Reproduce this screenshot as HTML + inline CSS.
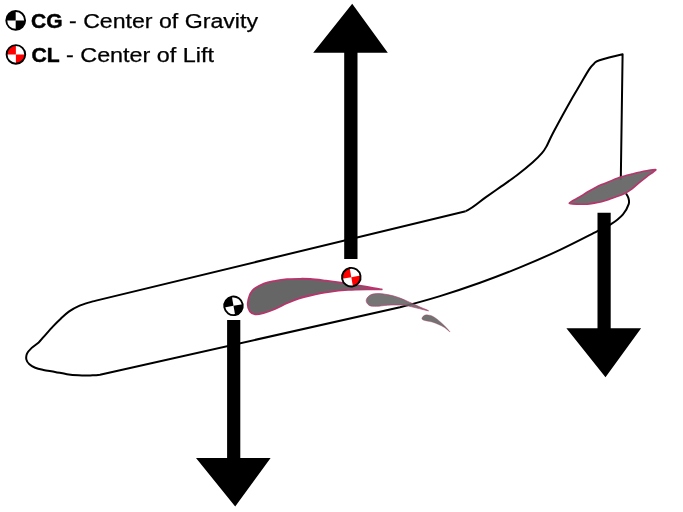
<!DOCTYPE html>
<html><head><meta charset="utf-8"><style>html,body{margin:0;padding:0;background:#fff;overflow:hidden}svg{display:block}</style></head>
<body><svg width="683" height="512" viewBox="0 0 683 512">
<rect width="683" height="512" fill="#fff"/>
<path d="M465.7,211.2 L96.0,300.6 C91.05,301.82 93.20,301.18 90.30,302.10 C87.40,303.02 82.12,304.55 78.60,306.10 C75.08,307.65 72.13,309.35 69.20,311.40 C66.27,313.45 63.73,315.87 61.00,318.40 C58.27,320.93 55.73,323.47 52.80,326.60 C49.87,329.73 45.75,334.57 43.40,337.20 C41.05,339.83 40.65,340.62 38.70,342.40 C36.75,344.18 33.65,346.02 31.70,347.90 C29.75,349.78 27.88,351.75 27.00,353.70 C26.12,355.65 26.00,357.83 26.40,359.60 C26.80,361.37 27.93,362.93 29.40,364.30 C30.87,365.67 32.87,366.87 35.20,367.80 C37.53,368.73 40.08,369.22 43.40,369.90 C46.72,370.58 51.18,371.18 55.10,371.90 C59.02,372.62 62.98,373.63 66.90,374.20 C70.82,374.77 74.70,375.10 78.60,375.30 C82.50,375.50 86.73,375.50 90.30,375.40 C93.87,375.30 95.05,375.57 100.00,374.70 L400,307.3 C410.00,304.68 426.67,300.18 440.00,296.10 C453.33,292.02 466.67,287.58 480.00,282.80 C493.33,278.02 506.67,272.88 520.00,267.40 C533.33,261.92 547.17,255.90 560.00,249.90 C572.83,243.90 588.50,235.68 597.00,231.40 C605.50,227.12 606.67,227.05 611.00,224.20 C615.33,221.35 620.05,217.65 623.00,214.30 C625.95,210.95 627.80,206.82 628.70,204.10 C629.60,201.38 628.85,199.77 628.40,198.00 C627.95,196.23 626.40,194.25 626.00,193.50" fill="none" stroke="#000" stroke-width="2" stroke-linejoin="round"/>
<path d="M465.7,211.2 C473.30,207.88 479.68,201.53 485.60,197.40 C491.53,193.27 496.03,190.08 501.25,186.40 C506.47,182.72 511.69,179.27 516.90,175.30 C522.11,171.33 528.33,166.28 532.50,162.60 C536.67,158.92 539.55,155.93 541.90,153.20 C544.25,150.47 544.92,149.23 546.60,146.20 C548.28,143.17 549.33,140.15 552.00,135.00 C554.67,129.85 559.37,121.22 562.60,115.30 C565.83,109.38 568.47,104.62 571.40,99.50 C574.33,94.38 577.27,89.58 580.20,84.60 C583.13,79.62 586.67,73.12 589.00,69.60 C591.33,66.08 592.45,65.07 594.20,63.50 C595.95,61.93 594.77,61.75 599.50,60.20 C604.23,58.65 615.85,55.73 622.60,54.20 L620.8,180" fill="none" stroke="#000" stroke-width="2" stroke-linejoin="round"/>
<path d="M247.80,302.80 C248.22,299.28 249.73,293.68 252.40,290.50 C255.07,287.32 259.98,285.32 263.80,283.70 C267.62,282.08 271.43,281.55 275.30,280.80 C279.17,280.05 283.12,279.53 287.00,279.20 C290.88,278.87 294.72,278.83 298.60,278.80 C302.48,278.77 305.73,278.68 310.30,279.00 C314.87,279.32 321.55,280.18 326.00,280.70 C330.45,281.22 333.33,281.60 337.00,282.10 C340.67,282.60 343.43,282.98 348.00,283.70 C352.57,284.42 359.83,285.60 364.40,286.40 C368.97,287.20 372.53,288.00 375.40,288.50 C378.27,289.00 382.52,289.27 381.60,289.40 C380.68,289.53 375.50,289.22 369.90,289.30 C364.30,289.38 354.98,289.43 348.00,289.90 C341.02,290.37 334.28,291.17 328.00,292.10 C321.72,293.03 315.20,294.42 310.30,295.50 C305.40,296.58 302.50,297.32 298.60,298.60 C294.70,299.88 290.82,301.47 286.90,303.20 C282.98,304.93 279.02,307.35 275.10,309.00 C271.18,310.65 266.72,312.22 263.40,313.10 C260.08,313.98 257.45,314.55 255.20,314.30 C252.95,314.05 251.13,313.52 249.90,311.60 C248.67,309.68 247.38,306.32 247.80,302.80 Z" fill="#666666" stroke="#b8346c" stroke-width="1.8"/>
<path d="M366.20,300.60 C366.23,298.95 367.77,296.67 369.50,295.50 C371.23,294.33 373.58,293.75 376.60,293.60 C379.62,293.45 383.93,293.95 387.60,294.60 C391.27,295.25 394.87,296.20 398.60,297.50 C402.33,298.80 406.43,300.82 410.00,302.40 C413.57,303.98 416.90,305.60 420.00,307.00 C423.10,308.40 428.93,310.58 428.60,310.80 C428.27,311.02 421.77,309.17 418.00,308.30 C414.23,307.43 409.23,306.15 406.00,305.60 C402.77,305.05 401.67,305.07 398.60,305.00 C395.53,304.93 391.27,304.98 387.60,305.20 C383.93,305.42 379.65,306.27 376.60,306.30 C373.55,306.33 371.03,306.35 369.30,305.40 C367.57,304.45 366.17,302.25 366.20,300.60 Z" fill="#666666" fill-opacity="0.9" stroke="#b8346c" stroke-width="1" stroke-opacity="0.6"/>
<path d="M421.90,318.20 C422.07,317.48 423.15,316.17 424.00,315.60 C424.85,315.03 425.57,314.70 427.00,314.80 C428.43,314.90 430.70,315.30 432.60,316.20 C434.50,317.10 436.45,318.65 438.40,320.20 C440.35,321.75 442.35,323.53 444.30,325.50 C446.25,327.47 450.10,331.68 450.10,332.00 C450.10,332.32 446.25,328.65 444.30,327.40 C442.35,326.15 440.35,325.37 438.40,324.50 C436.45,323.63 434.55,322.78 432.60,322.20 C430.65,321.62 428.30,321.38 426.70,321.00 C425.10,320.62 423.80,320.37 423.00,319.90 C422.20,319.43 421.73,318.92 421.90,318.20 Z" fill="#666666" fill-opacity="0.92" stroke="#b8346c" stroke-width="0.6" stroke-opacity="0.5"/>
<path d="M569.20,203.20 C569.20,202.00 576.63,198.82 579.60,197.00 C582.57,195.18 584.55,193.77 587.00,192.30 C589.45,190.83 591.87,189.48 594.30,188.20 C596.73,186.92 599.17,185.68 601.60,184.60 C604.03,183.52 606.28,182.77 608.90,181.70 C611.52,180.63 614.68,179.15 617.30,178.20 C619.92,177.25 622.15,176.68 624.60,176.00 C627.05,175.32 629.55,174.72 632.00,174.10 C634.45,173.48 636.87,172.85 639.30,172.30 C641.73,171.75 643.90,171.25 646.60,170.80 C649.30,170.35 654.35,169.43 655.50,169.60 C656.65,169.77 654.98,170.60 653.50,171.80 C652.02,173.00 648.97,175.00 646.60,176.80 C644.23,178.60 641.73,180.60 639.30,182.60 C636.87,184.60 634.45,186.98 632.00,188.80 C629.55,190.62 627.43,192.10 624.60,193.50 C621.77,194.90 617.62,196.20 615.00,197.20 C612.38,198.20 611.13,198.75 608.90,199.50 C606.67,200.25 604.03,201.10 601.60,201.70 C599.17,202.30 596.73,202.68 594.30,203.10 C591.87,203.52 589.45,204.02 587.00,204.20 C584.55,204.38 582.57,204.37 579.60,204.20 C576.63,204.03 569.20,204.40 569.20,203.20 Z" fill="#666666" fill-opacity="0.95" stroke="#b8346c" stroke-width="1.6"/>
<path d="M352.2,3.7 L387.8,52.7 L357.5,52.7 L357.5,258.9 L344.2,258.9 L344.2,52.7 L313.2,52.7 Z" fill="#000"/>
<path d="M235.2,506.5 L270.6,457.9 L240.3,457.9 L240.3,320.1 L227.1,320.1 L227.1,457.9 L196.0,457.9 Z" fill="#000"/>
<path d="M605.5,377.2 L641.1,328.2 L610.7,328.2 L610.7,212.8 L597.5,212.8 L597.5,328.2 L566.4,328.2 Z" fill="#000"/>
<g transform="translate(233.5,305.8) rotate(-10)">
<circle r="9.3" fill="#fff"/>
<path d="M0,0 L-9.3,0 A9.3,9.3 0 0 1 0,-9.3 Z" fill="#000"/>
<path d="M0,0 L9.3,0 A9.3,9.3 0 0 1 0,9.3 Z" fill="#000"/>
<circle r="9.3" fill="none" stroke="#000" stroke-width="1.9"/>
</g>
<g transform="translate(351.3,277.2) rotate(-10)">
<circle r="9.3" fill="#fff"/>
<path d="M0,0 L-9.3,0 A9.3,9.3 0 0 1 0,-9.3 Z" fill="#f00"/>
<path d="M0,0 L9.3,0 A9.3,9.3 0 0 1 0,9.3 Z" fill="#f00"/>
<circle r="9.3" fill="none" stroke="#000" stroke-width="1.9"/>
</g>
<g transform="translate(15.7,20.4) rotate(0)">
<circle r="9.4" fill="#fff"/>
<path d="M0,0 L-9.4,0 A9.4,9.4 0 0 1 0,-9.4 Z" fill="#000"/>
<path d="M0,0 L9.4,0 A9.4,9.4 0 0 1 0,9.4 Z" fill="#000"/>
<circle r="9.4" fill="none" stroke="#000" stroke-width="1.9"/>
</g>
<g transform="translate(15.9,54.4) rotate(0)">
<circle r="9.3" fill="#fff"/>
<path d="M0,0 L-9.3,0 A9.3,9.3 0 0 1 0,-9.3 Z" fill="#f00"/>
<path d="M0,0 L9.3,0 A9.3,9.3 0 0 1 0,9.3 Z" fill="#f00"/>
<circle r="9.3" fill="none" stroke="#000" stroke-width="1.9"/>
</g>
<g font-family="Liberation Sans, sans-serif" fill="#000" stroke="#000" stroke-width="0.25" style="filter:grayscale(1)">
<text x="31" y="28.2" font-size="19.5" font-weight="bold" stroke-width="0.45" textLength="31.5" lengthAdjust="spacingAndGlyphs">CG</text>
<text x="69" y="28.2" font-size="19.5" textLength="189" lengthAdjust="spacingAndGlyphs">- Center of Gravity</text>
<text x="31.5" y="62.4" font-size="19.5" font-weight="bold" stroke-width="0.45" textLength="28.2" lengthAdjust="spacingAndGlyphs">CL</text>
<text x="66" y="62.4" font-size="19.5" textLength="148" lengthAdjust="spacingAndGlyphs">- Center of Lift</text>
</g>
</svg></body></html>
